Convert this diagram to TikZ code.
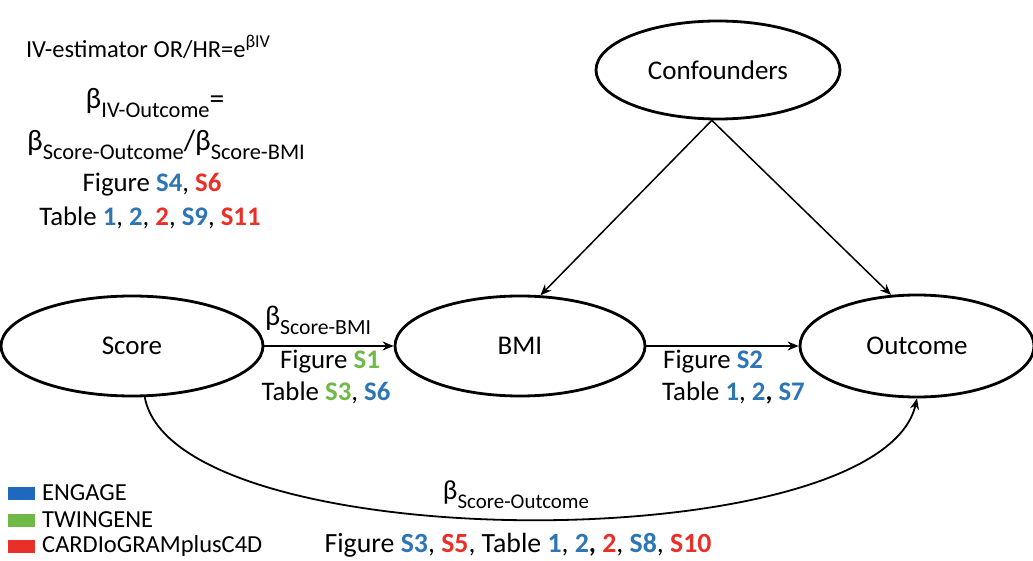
\documentclass[tikz,border=0pt]{standalone}
\usepackage{fontspec}
\setmainfont{Carlito}
\usepackage{graphicx}
\usetikzlibrary{arrows.meta,shapes.geometric}

\definecolor{cblue}{RGB}{46,117,182}
\definecolor{cred}{RGB}{232,48,40}
\definecolor{cgreen}{RGB}{112,185,70}
\definecolor{kblue}{RGB}{30,105,190}

\newcommand{\bl}[1]{\textcolor{cblue}{\textbf{#1}}}
\newcommand{\rd}[1]{\textcolor{cred}{\textbf{#1}}}
\newcommand{\gr}[1]{\textcolor{cgreen}{\textbf{#1}}}
\newcommand{\betasub}[1]{β\raisebox{-0.32em}{\scalebox{0.76}{#1}}}
\newcommand{\fs}[1]{\fontsize{#1}{#1}\selectfont}

\begin{document}
\begin{tikzpicture}[x=1pt,y=-1pt,
  var/.style={ellipse,draw,line width=2.8pt,inner sep=0pt,font=\fs{27}},
  link/.style={line width=1.5pt,-{Stealth[length=11pt,width=9pt]}},
  lbl/.style={inner sep=0pt,font=\fs{26.8}},
  note/.style={inner sep=0pt,font=\fs{24.5}},
  key/.style={minimum width=27pt,minimum height=13pt,inner sep=0pt,fill=#1}]
\useasboundingbox (0,0) rectangle (1033,561);

% variables
\node[var,minimum width=262pt,minimum height=100pt] (score) at (132,346) {Score};
\node[var,minimum width=250pt,minimum height=100pt] (bmi) at (520,346) {BMI};
\node[var,minimum width=234pt,minimum height=102pt] (outcome) at (917,346) {Outcome};
\node[var,minimum width=244pt,minimum height=98pt] (conf) at (718,70) {Confounders};

% causal paths
\draw[link] (conf.263) -- (bmi.68);
\draw[link] (conf.263) -- (outcome.117);
\draw[link] (score.east) -- (bmi.west);
\draw[link] (bmi.east) -- (outcome.west);
\draw[link,line width=1.8pt] (score.284) .. controls (175,560) and (880,560) .. (outcome.south);

% path labels
\node[lbl,font=\fs{28.5}] (bsb) at (318,320) {\betasub{Score-BMI}};
\node[lbl] (fs1) at (330,362) {Figure \gr{S1}};
\node[lbl] (ts3) at (326,393) {Table \gr{S3}, \bl{S6}};
\node[lbl,anchor=west] (fs2) at (663,362) {Figure \bl{S2}};
\node[lbl,anchor=west] (t12) at (662,393) {Table \bl{1}, \bl{2}\textbf{,} \bl{S7}};
\node[lbl,font=\fs{27.5}] (bso) at (516,495) {\betasub{Score-Outcome}};
\node[lbl,font=\fs{27.8}] (fs3) at (518,545) {Figure \bl{S3}, \rd{S5}, Table \bl{1}, \bl{2}\textbf{,} \rd{2}, \bl{S8}, \rd{S10}};

% estimator
\node[note] (ive) at (148,47) {IV-estimator OR/HR=e\raisebox{0.42em}{\scalebox{0.74}{βIV}}};
\node[note,font=\fs{29.5}] (bivo) at (155,103) {\betasub{IV-Outcome}=};
\node[note,font=\fs{29.5}] (ratio) at (166,145) {\betasub{Score-Outcome}/\betasub{Score-BMI}};
\node[lbl] (fs4) at (152,185) {Figure \bl{S4}, \rd{S6}};
\node[lbl] (t1) at (150,218) {Table \bl{1}, \bl{2}, \rd{2}, \bl{S9}, \rd{S11}};

% legend
\node[key=kblue] (kb) at (21,493) {};
\node[key=cgreen] (kg) at (21,520) {};
\node[key=cred] (kr) at (21,546) {};
\node[note,anchor=west] (lb) at (42,493) {ENGAGE};
\node[note,anchor=west] (lg) at (42,520) {TWINGENE};
\node[note,anchor=west] (lr) at (42,546) {CARDIoGRAMplusC4D};
\end{tikzpicture}
\end{document}
